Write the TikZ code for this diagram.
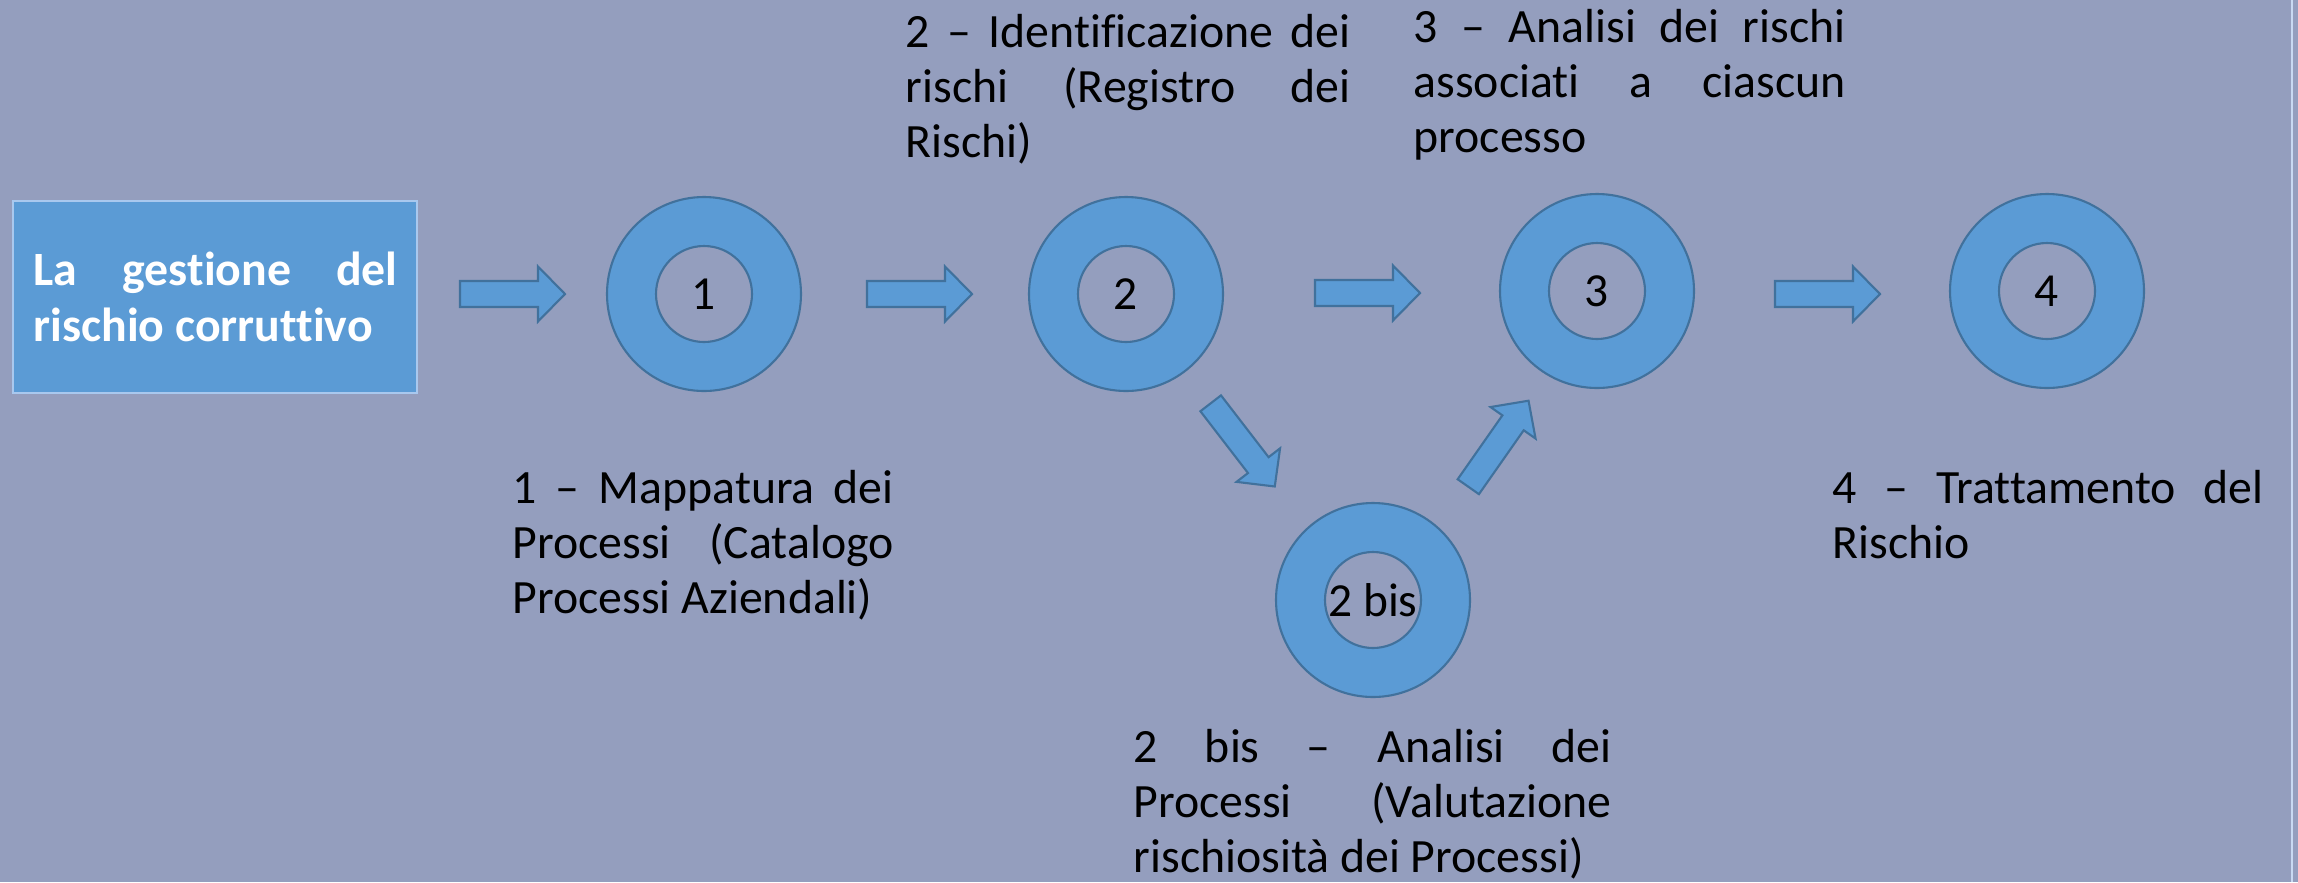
\documentclass[tikz,border=0pt]{standalone}
\usepackage{fontspec}
\setmainfont{Carlito}[Ligatures=NoCommon]
\definecolor{bgc}{HTML}{949EBE}
\definecolor{ringfill}{HTML}{5B9BD5}
\definecolor{ringline}{HTML}{41719C}
\definecolor{boxline}{HTML}{A9C8EE}
\definecolor{edgec}{HTML}{C9D9F2}
\newcommand\jline[1]{\leavevmode\hbox to\hsize{\spaceskip=0pt\xspaceskip=0pt #1}}
\newcommand\nline[1]{\leavevmode\hbox{\spaceskip=0pt\xspaceskip=0pt #1}}
\tikzset{
  ringout/.style={circle, fill=ringfill, draw=ringline, line width=0.6pt, minimum size=19.4mm, inner sep=0pt},
  ringin/.style={circle, fill=bgc, draw=ringline, line width=0.6pt, minimum size=9.6mm, inner sep=0pt, font=\fontsize{13.5pt}{16pt}\selectfont},
  steptext/.style={anchor=base west, inner sep=0pt, font=\fontsize{13.6pt}{15.65pt}\selectfont},
  boxtext/.style={anchor=base west, inner sep=0pt, text=white, font=\fontsize{13.6pt}{16.2pt}\selectfont\bfseries},
  startbox/.style={rectangle, fill=ringfill, draw=boxline, line width=0.6pt, inner sep=0pt},
  blockarr/.pic={\path[fill=ringfill, draw=ringline, line width=0.6pt] (0,13) -- (78,13) -- (78,27.5) -- (105,0) -- (78,-27.5) -- (78,-13) -- (0,-13) -- cycle;}
}
\begin{document}
\begin{tikzpicture}[x=0.1mm, y=-0.1mm]
\fill[bgc] (0,0) rectangle (2298,882);
\useasboundingbox (0,0) rectangle (2298,882);
\draw[edgec, line width=0.6pt] (2292,0) -- (2292,882);

% start box
\node[startbox, minimum width=40.4mm, minimum height=19.2mm] (box) at (215,297) {};
\node[boxtext, text width=36.4mm] (boxt) at (33,285) {\jline{La gestione del}\\\nline{rischio corruttivo}};

% rings
\node[ringout] (r1) at (704,294) {};
\node[ringin] (r1i) at (r1) {1};
\node[ringout] (r2) at (1126,294) {};
\node[ringin] (r2i) at (r2) {2};
\node[ringout] (r3) at (1597,291) {};
\node[ringin] (r3i) at (r3) {3};
\node[ringout] (r4) at (2047,291) {};
\node[ringin] (r4i) at (r4) {4};
\node[ringout] (r5) at (1373,600) {};
\node[ringin] (r5i) at (r5) {2 bis};

% block arrows
\pic (a1) at (460,294) {blockarr};
\pic (a2) at (867,294) {blockarr};
\pic (a3) at (1315,293) {blockarr};
\pic (a4) at (1775,294) {blockarr};
\pic[rotate=-52.4] (a5) at (1210.7,403.3) {blockarr};
\pic[rotate=55] (a6) at (1468.3,486.7) {blockarr};

% labels
\node[steptext, text width=38.1mm] (t1) at (512,503) {\jline{1 – Mappatura dei}\\\jline{Processi (Catalogo}\\\nline{Processi Aziendali)}};
\node[steptext, text width=44.5mm] (t2) at (905,47) {\jline{2 – Identificazione dei}\\\jline{rischi (Registro dei}\\\nline{Rischi)}};
\node[steptext, text width=43.2mm] (t3) at (1413,42) {\jline{3 – Analisi dei rischi}\\\jline{associati a ciascun}\\\nline{processo}};
\node[steptext, text width=47.8mm] (t5) at (1133,762) {\jline{2 bis – Analisi dei}\\\jline{Processi (Valutazione}\\\nline{rischiosità dei Processi)}};
\node[steptext, text width=43.1mm] (t4) at (1832,503) {\jline{4 – Trattamento del}\\\nline{Rischio}};
\end{tikzpicture}
\end{document}
